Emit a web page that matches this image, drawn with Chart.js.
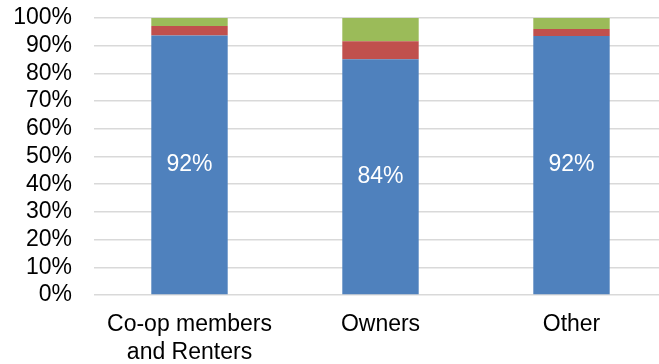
<!DOCTYPE html>
<html>
<head>
<meta charset="utf-8">
<script src="https://cdn.jsdelivr.net/npm/chart.js@4/dist/chart.umd.min.js"></script>
<style>
  html, body { margin: 0; padding: 0; overflow: hidden; background: #ffffff; }
  #wrap { position: relative; width: 667px; height: 364px; }
</style>
</head>
<body>
<div id="wrap"><canvas id="chart"></canvas></div>
<script>
// Survey answers by housing tenure (percent of respondents in each group).
const categories = [['Co-op members', 'and Renters'], 'Owners', 'Other'];
const yesValues = [92, 84, 92];
const noValues = [3.4, 6.4, 2.5];
const unsureValues = [2.8, 8.3, 3.9];
const seriesNames = ['Yes', 'No', 'Not sure'];
const seriesColors = ['#4F81BD', '#C0504D', '#9BBB59'];

// Each bar shows the share of the answers given, so the stack fills 100%.
const totals = categories.map((_, i) => yesValues[i] + noValues[i] + unsureValues[i]);
const toShare = arr => arr.map((v, i) => v / totals[i] * 100);

const FONT = '"Liberation Sans", Arial, Helvetica, sans-serif';

// White value labels centred in the first segment of each bar.
const valueLabels = {
  id: 'valueLabels',
  afterDatasetsDraw(chart) {
    const meta = chart.getDatasetMeta(0);
    const ctx = chart.ctx;
    ctx.save();
    ctx.font = '23px ' + FONT;
    ctx.fillStyle = '#ffffff';
    ctx.textAlign = 'center';
    ctx.textBaseline = 'middle';
    meta.data.forEach((bar, i) => {
      const p = bar.getProps(['x', 'y', 'base'], true);
      ctx.fillText(yesValues[i] + '%', p.x, (p.y + p.base) / 2);
    });
    ctx.restore();
  }
};

new Chart(document.getElementById('chart'), {
  type: 'bar',
  data: {
    labels: categories,
    datasets: [yesValues, noValues, unsureValues].map((vals, k) => ({
      label: seriesNames[k],
      data: toShare(vals),
      backgroundColor: seriesColors[k],
      borderWidth: 0,
      barPercentage: 0.4,
      categoryPercentage: 1.0
    }))
  },
  options: {
    responsive: true,
    maintainAspectRatio: false,
    animation: false,
    layout: { padding: { top: 0, left: 0, right: 0, bottom: 0 } },
    plugins: {
      legend: { display: false },
      tooltip: { enabled: false }
    },
    scales: {
      x: {
        stacked: true,
        grid: { display: false },
        border: { display: false },
        ticks: {
          color: '#000000',
          font: { family: FONT, size: 23, lineHeight: 1.2 },
          padding: 8,
          maxRotation: 0,
          autoSkip: false
        },
        afterFit(scale) { scale.height = 69; }
      },
      y: {
        stacked: true,
        min: 0,
        max: 100,
        grid: { color: '#D9D9D9', lineWidth: 1.5, drawTicks: false },
        border: { display: false },
        ticks: {
          stepSize: 10,
          autoSkip: false,
          color: '#000000',
          font: { family: FONT, size: 23 },
          padding: 22,
          callback: v => v + '%'
        },
        afterFit(scale) {
          scale.width = 94;
          scale.paddingTop = 18;
          scale.paddingBottom = 0;
        }
      }
    }
  },
  plugins: [valueLabels]
});
</script>
</body>
</html>
